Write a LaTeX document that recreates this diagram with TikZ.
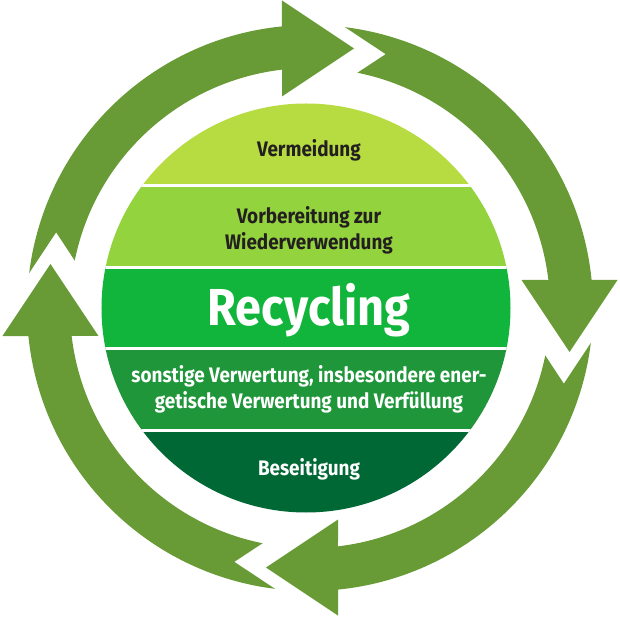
\documentclass[tikz,border=0pt]{standalone}
\usepackage{fontspec}
\setmainfont[FakeStretch=0.9]{Fira Sans}
\usetikzlibrary{positioning}
\definecolor{ringgreen}{HTML}{689B35}
\definecolor{bandA}{HTML}{B7DC42}
\definecolor{bandB}{HTML}{93D33D}
\definecolor{bandC}{HTML}{12B53B}
\definecolor{bandD}{HTML}{1F963A}
\definecolor{bandE}{HTML}{006835}
\definecolor{darktext}{HTML}{231F20}

\begin{document}
\begin{tikzpicture}
  [
    x=1pt, y=1pt, on grid,
    level/.style={font=\bfseries\fontsize{21}{26}\selectfont, align=center, inner sep=0pt, text=#1},
    big level/.style={font=\bfseries\fontsize{52}{56}\selectfont, inner sep=0pt, text=white},
    cycle arrow/.style={fill=ringgreen}
  ]
  \useasboundingbox (-310,-312) rectangle (310,308);
  % four arrows round the disc
  \foreach \r in {0,-90,-180,-270}
    \fill [cycle arrow, rotate=\r] (172.9:283) arc [start angle=172.9, end angle=95.7, radius=283]
      -- (-28,307.5) -- (44,259.5) -- (-28,211.5) -- (96.7:240)
      arc [start angle=96.7, end angle=168.6, radius=240] -- (163.4:264.9) -- cycle;
  % banded disc
  \begin{scope}
    \clip (-4,0) circle [radius=204.5];
    \foreach \c [count=\i] in {bandA,bandB,bandC,bandD,bandE}
      \fill [\c] (-215,286.3-81.8*\i) rectangle (215,204.5-81.8*\i);
    \foreach \i in {1,...,4}
      \draw [white, line width=3pt] (-215,204.5-81.8*\i) -- (215,204.5-81.8*\i);
  \end{scope}
  \node (recy) at (-1,-2.5) [big level] {Recycling};
  \node (vorb) [above=80pt of recy, level=darktext] {Vorbereitung zur\\Wiederverwendung};
  \node (verm) [above=80pt of vorb, level=darktext] {Vermeidung};
  \node (sonst) [below=79pt of recy, level=white] {sonstige Verwertung, insbesondere ener-\\getische Verwertung und Verfüllung};
  \node (beseit) [below=80pt of sonst, level=white] {Beseitigung};
\end{tikzpicture}
\end{document}
